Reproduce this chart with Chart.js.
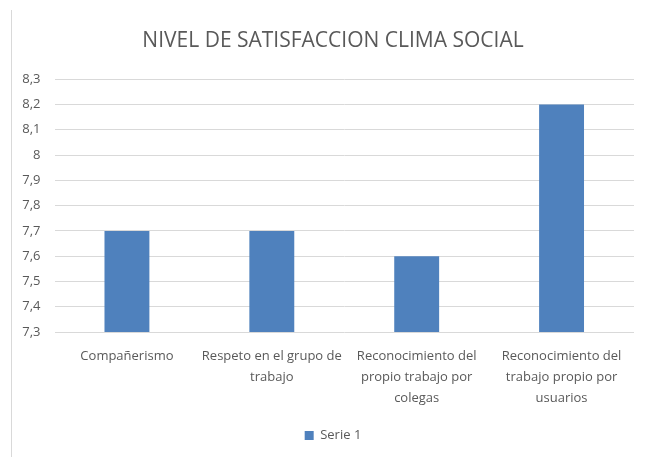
<!DOCTYPE html>
<html>
<head>
<meta charset="utf-8">
<script src="https://cdn.jsdelivr.net/npm/chart.js@4.4.0/dist/chart.umd.min.js"></script>
<style>
  html, body { margin: 0; padding: 0; background: #fff; }
  #wrap { position: relative; width: 646px; height: 457px; }
  #edge { position: absolute; left: 11px; top: 10px; width: 1px; height: 447px; background: #d9d9d9; }
  canvas { position: absolute; left: 0; top: 0; }
</style>
</head>
<body>
<div id="wrap">
  <div id="edge"></div>
  <canvas id="chart" width="646" height="457"></canvas>
</div>
<script>
const categories = [
    ["Compañerismo"],
    ["Respeto en el grupo de", "trabajo"],
    ["Reconocimiento del", "propio trabajo por", "colegas"],
    ["Reconocimiento del", "trabajo propio por", "usuarios"]
];
const serie1 = [7.7, 7.7, 7.6, 8.2];
const seriesName = "Serie 1";
const yMin = 7.3;
const yMax = 8.3;
const yStep = 0.1;

const fontFamily = "'Open Sans', sans-serif";
const textColor = '#595959';
const gridColor = '#d9d9d9';

new Chart(document.getElementById('chart'), {
    type: 'bar',
    data: {
        labels: categories,
        datasets: [{
            label: seriesName,
            data: serie1,
            backgroundColor: '#4f81bd',
            barPercentage: 0.31,
            categoryPercentage: 1
        }]
    },
    options: {
        responsive: false,
        animation: false,
        layout: { padding: { left: 20, right: 0, top: 0, bottom: 5 } },
        plugins: {
            title: {
                display: true,
                text: 'NIVEL DE SATISFACCION CLIMA SOCIAL',
                color: textColor,
                font: { family: fontFamily, size: 21, weight: 'normal' },
                padding: { top: 28, bottom: 26 }
            },
            legend: {
                position: 'bottom',
                labels: {
                    color: textColor,
                    font: { family: fontFamily, size: 13 },
                    boxWidth: 9,
                    boxHeight: 9,
                    padding: 10
                }
            },
            tooltip: { enabled: false }
        },
        scales: {
            x: {
                grid: { display: false },
                border: { display: false },
                ticks: {
                    color: textColor,
                    font: { family: fontFamily, size: 13, lineHeight: 1.6 },
                    maxRotation: 0,
                    autoSkip: false,
                    padding: 6
                },
                afterFit: (scale) => { scale.height = 87; }
            },
            y: {
                min: yMin,
                max: yMax,
                border: { display: false },
                grid: { color: gridColor, drawTicks: false },
                ticks: {
                    stepSize: yStep,
                    color: textColor,
                    font: { family: fontFamily, size: 13 },
                    padding: 14,
                    callback: (v) => String(Math.round(v * 10) / 10).replace('.', ',')
                },
                afterFit: (scale) => { scale.width = 34.5; }
            },
            // empty right axis, only keeps the plot off the right edge
            yRight: {
                position: 'right',
                display: true,
                grid: { display: false },
                border: { display: false },
                ticks: { display: false },
                afterFit: (scale) => { scale.width = 12; }
            }
        }
    }
});
</script>
</body>
</html>
